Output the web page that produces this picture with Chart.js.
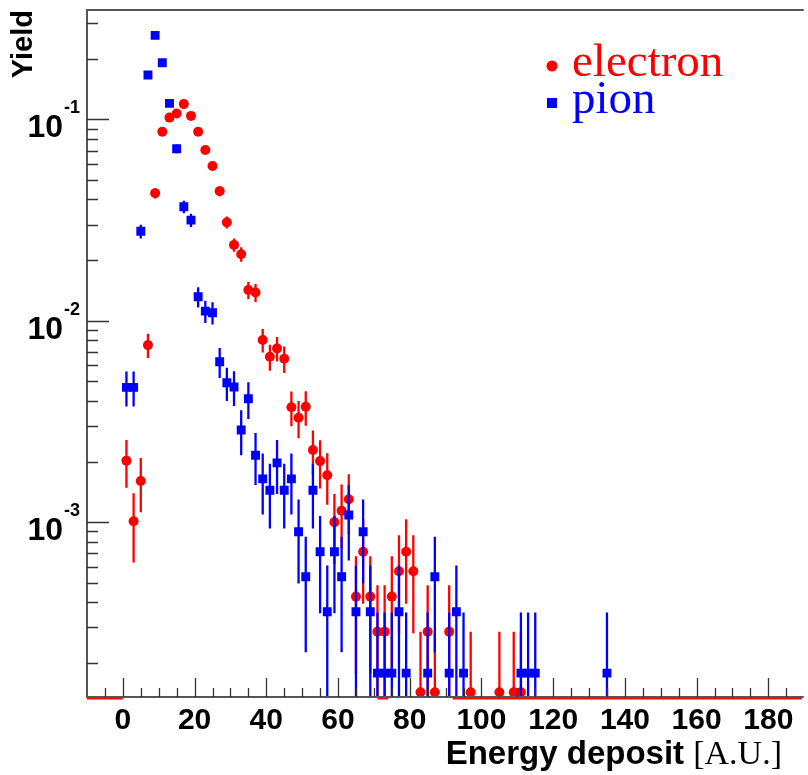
<!DOCTYPE html>
<html><head><meta charset="utf-8">
<script src="https://cdn.jsdelivr.net/npm/chart.js@4/dist/chart.umd.min.js"></script>
<style>html,body{margin:0;padding:0;background:#fff;}#wrap{width:808px;height:775px;}</style>
</head><body><div id="wrap"><canvas id="c" width="808" height="775"></canvas></div>
<script>
// ---- data ----
const electronX = [1,3,5,7,9,11,13,15,17,19,21,23,25,27,29,31,33,35,37,39,41,43,45,47,49,51,53,55,57,59,61,63,65,67,69,71,73,75,77,79,81,83,85,87,91,97,105,109,111];
const electronY = [2.02e-3,1.01e-3,1.60e-3,7.57e-3,0.0430,0.0868,0.102,0.107,0.119,0.104,0.0868,0.0704,0.0586,0.0440,0.0308,0.0238,0.0214,0.0142,0.0138,8.02e-3,6.63e-3,7.29e-3,6.48e-3,3.72e-3,3.30e-3,3.74e-3,2.28e-3,2.01e-3,1.71e-3,1.00e-3,1.14e-3,1.30e-3,4.27e-4,7.13e-4,4.27e-4,2.86e-4,2.86e-4,4.27e-4,5.71e-4,7.13e-4,5.71e-4,1.43e-4,2.86e-4,1.43e-4,2.86e-4,1.43e-4,1.43e-4,1.43e-4,1.43e-4];
const electronErr = [5.4e-4,3.8e-4,4.8e-4,1.04e-3,2.5e-3,3.5e-3,3.8e-3,3.9e-3,4.1e-3,3.9e-3,3.5e-3,3.2e-3,2.9e-3,2.5e-3,2.1e-3,1.8e-3,1.75e-3,1.43e-3,1.40e-3,1.07e-3,9.8e-4,1.02e-3,9.7e-4,7.3e-4,6.9e-4,7.3e-4,5.7e-4,5.4e-4,4.9e-4,3.8e-4,4.0e-4,4.3e-4,2.5e-4,3.2e-4,2.5e-4,2.0e-4,2.0e-4,2.5e-4,2.9e-4,3.2e-4,2.9e-4,1.43e-4,2.0e-4,1.43e-4,2.0e-4,1.43e-4,1.43e-4,1.43e-4,1.43e-4];
const pionX = [1,3,5,7,9,11,13,15,17,19,21,23,25,27,29,31,33,35,37,39,41,43,45,47,49,51,53,55,57,59,61,63,65,67,69,71,73,75,77,79,85,87,91,93,95,111,113,115,135];
const pionY = [4.67e-3,4.67e-3,0.0278,0.166,0.261,0.191,0.120,0.0714,0.0368,0.0316,0.01315,0.01116,0.01096,6.26e-3,4.92e-3,4.69e-3,2.87e-3,4.10e-3,2.15e-3,1.64e-3,1.44e-3,1.97e-3,1.44e-3,1.64e-3,8.96e-4,5.36e-4,1.44e-3,7.13e-4,3.59e-4,7.13e-4,5.36e-4,1.085e-3,3.59e-4,8.96e-4,3.59e-4,1.78e-4,1.78e-4,1.78e-4,3.59e-4,1.78e-4,1.78e-4,5.36e-4,1.78e-4,3.59e-4,1.78e-4,1.78e-4,1.78e-4,1.78e-4,1.78e-4];
const pionErr = [9.2e-4,9.2e-4,2.2e-3,5.4e-3,6.8e-3,5.8e-3,4.6e-3,3.6e-3,2.6e-3,2.4e-3,1.53e-3,1.41e-3,1.39e-3,1.06e-3,9.3e-4,9.2e-4,7.2e-4,8.5e-4,6.2e-4,5.5e-4,5.1e-4,5.9e-4,5.1e-4,5.5e-4,4.0e-4,3.1e-4,5.1e-4,3.6e-4,2.5e-4,3.6e-4,3.1e-4,4.4e-4,2.5e-4,4.0e-4,2.5e-4,1.78e-4,1.78e-4,1.78e-4,2.5e-4,1.78e-4,1.78e-4,3.1e-4,1.78e-4,2.5e-4,1.78e-4,1.78e-4,1.78e-4,1.78e-4,1.78e-4];
const electronEmptyRanges = [[-10,0],[71,74],[92,189.3]];
const xTickLabels = [0,20,40,60,80,100,120,140,160,180];
const yTickDecades = [-3,-2,-1];
const seriesNames = ['electron','pion'];
const xTitleMain = 'Energy deposit';
const xTitleUnit = '[A.U.]';
const yTitle = 'Yield';

const RED = '#ff0000', BLUE = '#0000ff', AXIS = '#555555';
const SANS = '"Liberation Sans", Arial, sans-serif';
const SERIF = '"Liberation Serif", "Times New Roman", serif';

function pts(xs, ys){ return xs.map((x,i)=>({x:x, y:ys[i]})); }

function drawErrors(chart, xs, ys, errs, color){
  const {ctx, chartArea:a, scales:{x, y}} = chart;
  ctx.save();
  ctx.beginPath(); ctx.rect(a.left, a.top, a.right-a.left, a.bottom-a.top); ctx.clip();
  ctx.strokeStyle = color; ctx.lineWidth = 2.3; ctx.lineCap='butt';
  ctx.beginPath();
  for (let i=0;i<xs.length;i++){
    const px = x.getPixelForValue(xs[i]);
    const lo = ys[i]-errs[i];
    const yLo = lo > 1e-9 ? y.getPixelForValue(lo) : a.bottom+5;
    const yHi = y.getPixelForValue(ys[i]+errs[i]);
    ctx.moveTo(px, yLo); ctx.lineTo(px, yHi);
  }
  ctx.stroke();
  ctx.restore();
}

const decor = {
  id:'decor',
  beforeDraw(chart){
    const ctx = chart.ctx; ctx.save(); ctx.fillStyle='#fff'; ctx.fillRect(0,0,chart.width,chart.height); ctx.restore();
  },
  beforeDatasetDraw(chart, args){
    if (args.index===0) drawErrors(chart, electronX, electronY, electronErr, RED);
    if (args.index===1) drawErrors(chart, pionX, pionY, pionErr, BLUE);
  },
  afterDatasetsDraw(chart){
    const {ctx, chartArea:a, scales:{x, y}} = chart;
    ctx.save();
    // red baseline segments (empty electron bins)
    ctx.strokeStyle = RED; ctx.lineWidth = 2.2;
    ctx.beginPath();
    for (const r of electronEmptyRanges){ ctx.moveTo(x.getPixelForValue(r[0]), a.bottom+1.5); ctx.lineTo(Math.min(a.right, x.getPixelForValue(r[1])), a.bottom+1.5); }
    ctx.stroke();
    // frame
    ctx.strokeStyle = AXIS; ctx.lineWidth = 2;
    ctx.beginPath();
    ctx.moveTo(a.right+2, a.top); ctx.lineTo(a.left, a.top); ctx.lineTo(a.left, a.bottom); ctx.lineTo(a.right+2, a.bottom);
    ctx.stroke();
    // x ticks (inside)
    ctx.lineWidth = 1.3; ctx.strokeStyle = '#333';
    ctx.beginPath();
    for (let v=-5; v<=x.max; v+=5){
      const px = Math.round(x.getPixelForValue(v))+0.5;
      const len = (v%20===0) ? 19 : 9;
      ctx.moveTo(px, a.bottom); ctx.lineTo(px, a.bottom-len);
    }
    // y ticks (inside)
    for (let d=-4; d<=0; d++){
      for (let m=1; m<=9; m++){
        const v = m*Math.pow(10,d);
        if (v < y.min || v > y.max) continue;
        const py = Math.round(y.getPixelForValue(v))+0.5;
        const len = (m===1) ? 22 : 11;
        ctx.moveTo(a.left, py); ctx.lineTo(a.left+len, py);
      }
    }
    ctx.stroke();
    // x tick labels
    ctx.fillStyle = '#000';
    ctx.font = 'bold 30px ' + SANS;
    ctx.textAlign = 'center'; ctx.textBaseline = 'alphabetic';
    for (const v of xTickLabels){ ctx.fillText(String(v), x.getPixelForValue(v), a.bottom+32); }
    // y tick labels 10^n
    for (const d of yTickDecades){
      const py = y.getPixelForValue(Math.pow(10,d));
      ctx.font = 'bold 32px ' + SANS;
      ctx.textAlign = 'right';
      ctx.fillText('10', 63, py+18);
      ctx.font = 'bold 18px ' + SANS;
      ctx.textAlign = 'left';
      ctx.fillText(String(d), 64, py-6);
    }
    // x title
    ctx.textAlign = 'left';
    const fMain = 'bold 33px ' + SANS, fUnit = '34px ' + SERIF;
    ctx.font = fMain; const w1 = ctx.measureText(xTitleMain+' ').width;
    ctx.font = fUnit; const w2 = ctx.measureText(xTitleUnit).width;
    const xEnd = 782, base = 764;
    ctx.font = fMain; ctx.fillText(xTitleMain+' ', xEnd-w1-w2, base);
    ctx.font = fUnit; ctx.fillText(xTitleUnit, xEnd-w2, base);
    // y title
    ctx.save();
    ctx.translate(32, 10); ctx.rotate(-Math.PI/2);
    ctx.font = 'bold 29px ' + SANS;
    ctx.textAlign = 'right'; ctx.fillText(yTitle, 0, 0);
    ctx.restore();
    // legend
    ctx.font = '47px ' + SERIF;
    ctx.textAlign = 'left';
    ctx.fillStyle = RED; ctx.beginPath(); ctx.arc(552, 66, 5.5, 0, Math.PI*2); ctx.fill();
    ctx.fillText(seriesNames[0], 572, 76);
    ctx.fillStyle = BLUE; ctx.fillRect(547, 98, 10, 10);
    ctx.fillText(seriesNames[1], 572, 113);
    ctx.restore();
  }
};

new Chart(document.getElementById('c'), {
  type: 'scatter',
  data: { datasets: [
    { label: seriesNames[0], data: pts(electronX, electronY), pointStyle:'circle', pointRadius:5, backgroundColor:RED, borderColor:RED, borderWidth:0, order:1 },
    { label: seriesNames[1], data: pts(pionX, pionY), pointStyle:'rect', pointRadius:6.3, backgroundColor:BLUE, borderColor:BLUE, borderWidth:0, order:0 }
  ]},
  options: {
    responsive:false, animation:false, devicePixelRatio:1, events:[],
    layout:{ padding:{ left:87, top:10, right:0, bottom:78 } },
    plugins:{ legend:{display:false}, tooltip:{enabled:false} },
    scales:{
      x:{ type:'linear', min:-10, max:189.3, display:false },
      y:{ type:'logarithmic', min:1.355e-4, max:0.349, display:false }
    }
  },
  plugins:[decor]
});
</script></body></html>
